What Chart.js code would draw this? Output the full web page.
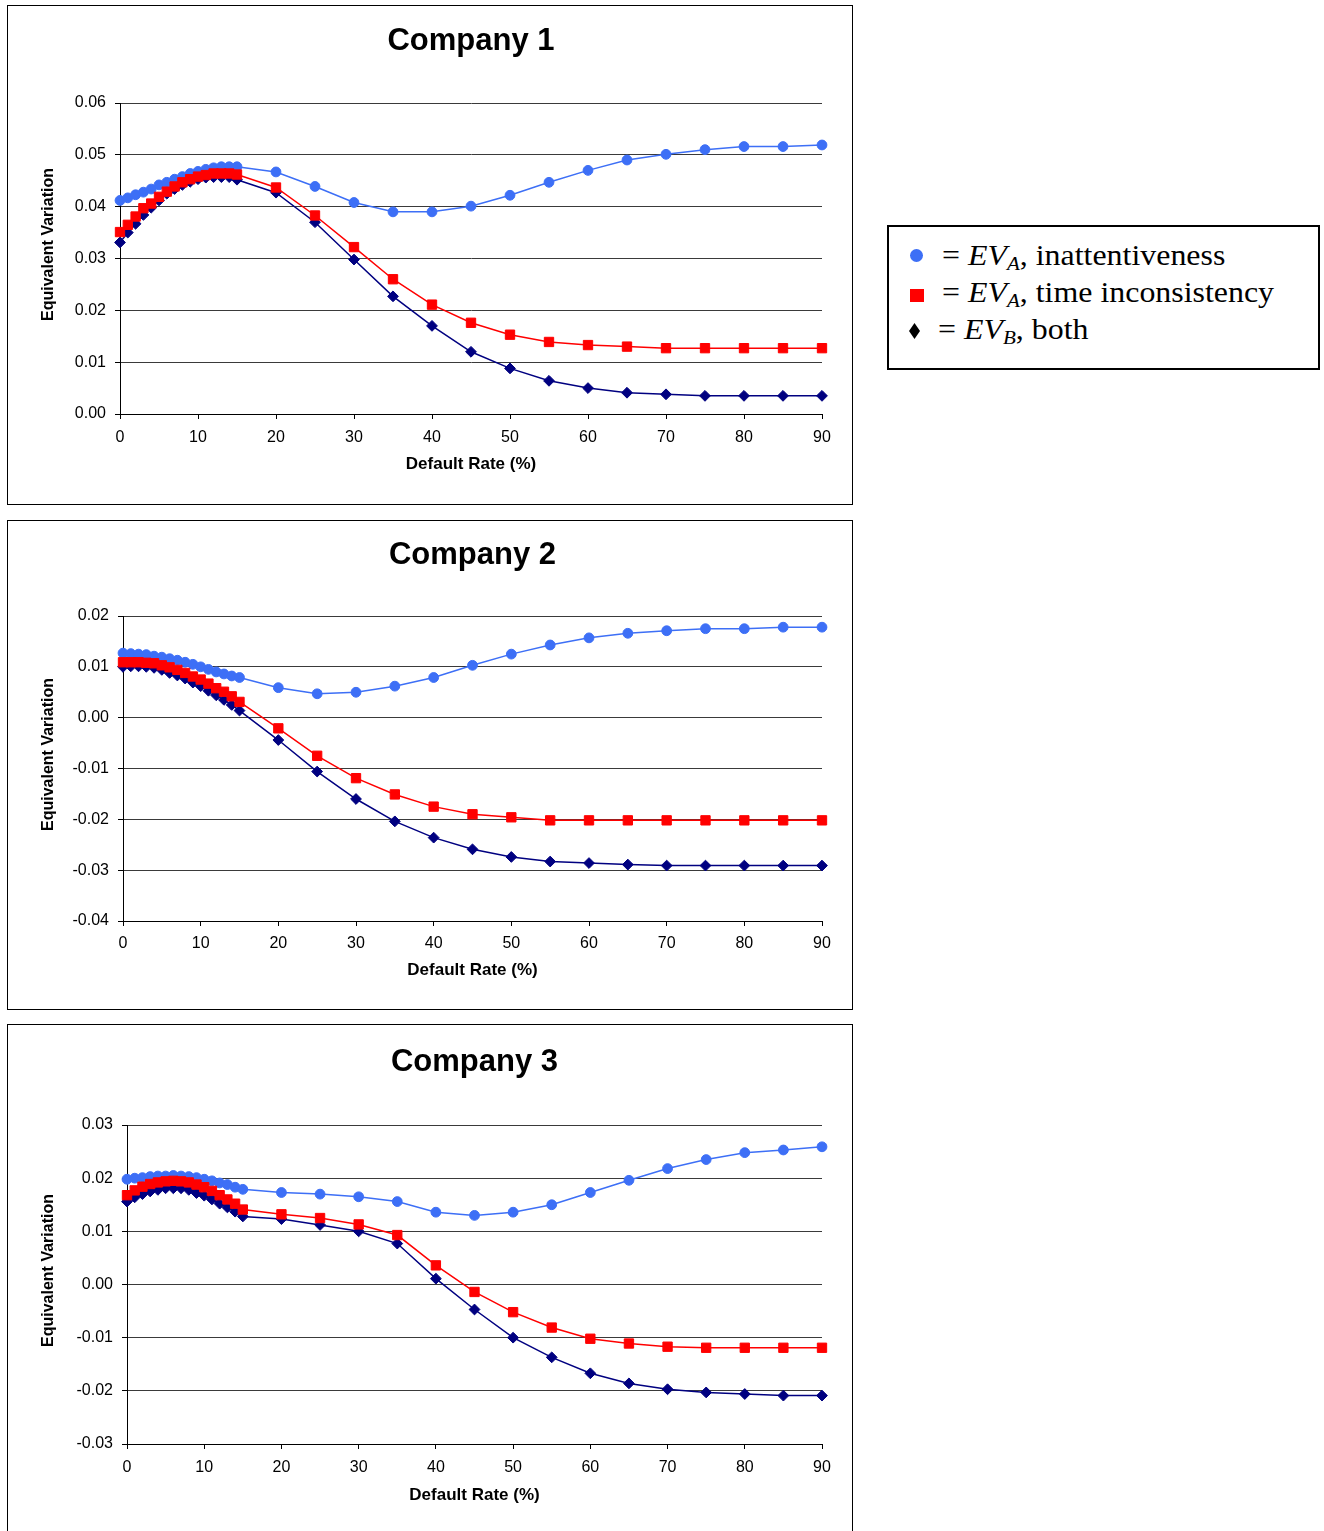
<!DOCTYPE html>
<html>
<head>
<meta charset="utf-8">
<script src="https://cdn.jsdelivr.net/npm/chart.js@4.4.1/dist/chart.umd.min.js"></script>
<style>
  html, body { margin: 0; padding: 0; background: #fff; }
  body { width: 1324px; height: 1531px; position: relative; overflow: hidden; }
  .panel { position: absolute; border: 1px solid #000; box-sizing: border-box; background: #fff; }
  .panel canvas { position: absolute; left: 0; top: 0; }
  #legend {
    position: absolute; left: 887px; top: 225px; width: 433px; height: 145px;
    border: 2px solid #000; box-sizing: border-box;
    font-family: "Liberation Serif", "Times New Roman", serif; font-size: 29px; color: #000;
  }
  #legend .row { position: absolute; height: 36px; line-height: 36px; white-space: nowrap;
                 transform: scaleX(1.1); transform-origin: left center; }
  #legend sub { font-size: 0.66em; font-style: italic; vertical-align: baseline; position: relative; top: 5px; line-height: 0; }
  #legend .mk { position: absolute; }
  .dot { width: 13px; height: 13px; border-radius: 50%; background: #3D6FF6; }
  .sq { width: 14px; height: 13px; background: #FF0000; }
  .dia { width: 11px; height: 16px; background: #000; clip-path: polygon(50% 0, 100% 50%, 50% 100%, 0 50%); }
</style>
</head>
<body>
<div class="panel" id="p1"><canvas id="c1"></canvas></div>
<div class="panel" id="p2"><canvas id="c2"></canvas></div>
<div class="panel" id="p3"><canvas id="c3"></canvas></div>

<div id="legend">
  <span class="mk dot" style="left:21px; top:22px;"></span>
  <span class="mk sq" style="left:21px; top:62px;"></span>
  <span class="mk dia" style="left:20px; top:96px;"></span>
  <div class="row" style="left:53px; top:10px;">= <i>EV</i><sub>A</sub>, inattentiveness</div>
  <div class="row" style="left:53px; top:47px;">= <i>EV</i><sub>A</sub>, time inconsistency</div>
  <div class="row" style="left:49px; top:84px;">= <i>EV</i><sub>B</sub>, both</div>
</div>

<script>
// default rate (%) on the x axis
const rates = [0, 1, 2, 3, 4, 5, 6, 7, 8, 9, 10, 11, 12, 13, 14, 15,
               20, 25, 30, 35, 40, 45, 50, 55, 60, 65, 70, 75, 80, 85, 90];

// Company 1
const c1Inatt = [0.0412, 0.0417, 0.0423, 0.0428, 0.0434, 0.0442, 0.0447, 0.0453, 0.0458, 0.0464, 0.0468, 0.0472, 0.0475, 0.0477, 0.0477, 0.0477,
                 0.0467, 0.0439, 0.0408, 0.0390, 0.0390, 0.0401, 0.0422, 0.0447, 0.0470, 0.0490, 0.0501, 0.0510, 0.0516, 0.0516, 0.0519];
const c1TimeInc = [0.0351, 0.0365, 0.0381, 0.0397, 0.0406, 0.0419, 0.0429, 0.0439, 0.0447, 0.0453, 0.0458, 0.0461, 0.0464, 0.0464, 0.0464, 0.0462,
                   0.0437, 0.0383, 0.0322, 0.0260, 0.0211, 0.0176, 0.0153, 0.0139, 0.0133, 0.0130, 0.0127, 0.0127, 0.0127, 0.0127, 0.0127];
const c1Both = [0.0331, 0.0350, 0.0367, 0.0384, 0.0398, 0.0412, 0.0425, 0.0434, 0.0442, 0.0448, 0.0453, 0.0456, 0.0457, 0.0457, 0.0457, 0.0452,
                0.0427, 0.0370, 0.0298, 0.0227, 0.0170, 0.0120, 0.0088, 0.0064, 0.0050, 0.0041, 0.0038, 0.0035, 0.0035, 0.0035, 0.0035];
const c1YRange = [0, 0.06];

// Company 2
const c2Inatt = [0.0127, 0.0126, 0.0125, 0.0124, 0.0121, 0.0119, 0.0116, 0.0113, 0.0109, 0.0105, 0.0100, 0.0095, 0.0090, 0.0086, 0.0082, 0.0079,
                 0.0059, 0.0047, 0.0050, 0.0062, 0.0079, 0.0103, 0.0125, 0.0143, 0.0157, 0.0166, 0.0171, 0.0175, 0.0175, 0.0178, 0.0178];
const c2TimeInc = [0.0109, 0.0109, 0.0109, 0.0108, 0.0107, 0.0103, 0.0099, 0.0094, 0.0088, 0.0081, 0.0075, 0.0067, 0.0058, 0.0051, 0.0042, 0.0031,
                   -0.0021, -0.0075, -0.0119, -0.0151, -0.0175, -0.0190, -0.0196, -0.0202, -0.0202, -0.0202, -0.0202, -0.0202, -0.0202, -0.0202, -0.0202];
const c2Both = [0.0100, 0.0101, 0.0101, 0.0100, 0.0098, 0.0094, 0.0088, 0.0083, 0.0077, 0.0069, 0.0062, 0.0053, 0.0044, 0.0035, 0.0025, 0.0014,
                -0.0044, -0.0106, -0.0160, -0.0204, -0.0236, -0.0259, -0.0274, -0.0283, -0.0286, -0.0289, -0.0291, -0.0291, -0.0291, -0.0291, -0.0291];
const c2YRange = [-0.04, 0.02];

// Company 3
const c3Inatt = [0.0198, 0.0200, 0.0201, 0.0203, 0.0204, 0.0204, 0.0205, 0.0204, 0.0203, 0.0201, 0.0198, 0.0195, 0.0191, 0.0188, 0.0183, 0.0179,
                 0.0173, 0.0170, 0.0165, 0.0156, 0.0136, 0.0130, 0.0136, 0.0150, 0.0173, 0.0196, 0.0218, 0.0235, 0.0248, 0.0253, 0.0259];
const c3TimeInc = [0.0168, 0.0177, 0.0184, 0.0189, 0.0192, 0.0194, 0.0195, 0.0194, 0.0192, 0.0188, 0.0183, 0.0176, 0.0168, 0.0160, 0.0152, 0.0141,
                   0.0132, 0.0125, 0.0113, 0.0093, 0.0036, -0.0014, -0.0052, -0.0081, -0.0102, -0.0111, -0.0117, -0.0119, -0.0119, -0.0119, -0.0119];
const c3Both = [0.0156, 0.0164, 0.0170, 0.0175, 0.0178, 0.0181, 0.0181, 0.0181, 0.0178, 0.0172, 0.0167, 0.0160, 0.0152, 0.0145, 0.0137, 0.0128,
                0.0123, 0.0112, 0.0100, 0.0077, 0.0011, -0.0047, -0.0100, -0.0137, -0.0167, -0.0186, -0.0197, -0.0203, -0.0206, -0.0209, -0.0209];
const c3YRange = [-0.03, 0.03];

const BLUE = '#3D6FF6';
const RED = '#FF0000';
const NAVY = '#000080';
const FONT = '"Liberation Sans", Arial, sans-serif';

Chart.defaults.font.family = FONT;
Chart.defaults.color = '#000';

function series(vals) {
  return rates.map((x, i) => ({ x: x, y: vals[i] }));
}

// y axis title sits a little above the middle of the plot, as in the original
const yTitlePlugin = {
  id: 'yTitle',
  afterDraw(chart, args, opts) {
    const { ctx, chartArea } = chart;
    ctx.save();
    ctx.font = 'bold 16px ' + FONT;
    ctx.fillStyle = '#000';
    ctx.textAlign = 'center';
    ctx.textBaseline = 'middle';
    ctx.translate(opts.x, (chartArea.top + chartArea.bottom) / 2 - 14);
    ctx.rotate(-Math.PI / 2);
    ctx.fillText('Equivalent Variation', 0, 0);
    ctx.restore();
  }
};

// box and plot are page coordinates
function makePanel(id, box, plot, titleY, tickY, xTitleY, title, yRange, inatt, timeInc, both) {
  const panel = document.getElementById('p' + id);
  panel.style.left = box.x + 'px';
  panel.style.top = box.y + 'px';
  panel.style.width = box.w + 'px';
  panel.style.height = box.h + 'px';

  const cl = box.x + 1, ct = box.y + 1, cw = box.w - 2, ch = box.h - 2;
  const canvas = document.getElementById('c' + id);
  canvas.width = cw;
  canvas.height = ch;

  const titleLh = 31 * 1.2;
  const titleTop = titleY - ct - titleLh / 2;
  const titleBottom = plot.t - ct - titleTop - titleLh;
  const yAxisW = plot.l - cl;
  const xAxisH = ct + ch - plot.b;
  const xTickPad = tickY - plot.b - 5 - 16 * 1.2 / 2;
  const xTitlePad = ct + ch - xTitleY - 17 * 1.2 / 2;

  new Chart(canvas, {
    type: 'line',
    plugins: [yTitlePlugin],
    data: {
      datasets: [
        { label: 'EV_A, time inconsistency', data: series(timeInc), borderColor: RED, backgroundColor: RED,
          pointStyle: 'rect', pointRadius: 6.6, order: 1 },
        { label: 'EV_B, both', data: series(both), borderColor: NAVY, backgroundColor: NAVY,
          pointStyle: 'rectRot', pointRadius: 5.4, order: 2 },
        { label: 'EV_A, inattentiveness', data: series(inatt), borderColor: BLUE, backgroundColor: BLUE,
          pointStyle: 'circle', pointRadius: 4.9, order: 3 }
      ]
    },
    options: {
      responsive: false,
      animation: false,
      layout: { padding: { left: 0, right: cl + cw - plot.r, top: 0, bottom: 0 } },
      elements: {
        line: { tension: 0, borderWidth: 1.5 },
        point: { borderWidth: 1 }
      },
      datasets: { line: { clip: false } },
      plugins: {
        legend: { display: false },
        tooltip: { enabled: false },
        yTitle: { x: 49 - cl },
        title: {
          display: true, text: title, fullSize: false, color: '#000',
          font: { size: 31, weight: 'bold' },
          padding: { top: titleTop, bottom: titleBottom }
        }
      },
      scales: {
        x: {
          type: 'linear', min: 0, max: 90,
          ticks: { stepSize: 10, padding: xTickPad, maxRotation: 0, font: { size: 16 } },
          grid: { drawOnChartArea: false, drawTicks: true, tickLength: 5, tickColor: '#000' },
          border: { display: true, color: '#000' },
          title: { display: true, text: 'Default Rate (%)', font: { size: 17, weight: 'bold' },
                   padding: { top: 0, bottom: xTitlePad } },
          afterFit: s => { s.height = xAxisH; s.paddingLeft = 0; s.paddingRight = 0; }
        },
        y: {
          min: yRange[0], max: yRange[1],
          ticks: { stepSize: 0.01, padding: 9, font: { size: 16 },
                   callback: v => (Math.abs(v) < 1e-9 ? 0 : v).toFixed(2) },
          grid: { color: '#3a3a3a', tickLength: 5, tickColor: '#000' },
          border: { display: true, color: '#000' },
          afterFit: s => { s.width = yAxisW; s.paddingTop = 0; s.paddingBottom = 0; }
        }
      }
    }
  });
}

makePanel(1, { x: 7, y: 5, w: 846, h: 500 }, { l: 120, r: 822, t: 103, b: 414 }, 41, 438, 464,
          'Company 1', c1YRange, c1Inatt, c1TimeInc, c1Both);
makePanel(2, { x: 7, y: 520, w: 846, h: 490 }, { l: 123, r: 822, t: 616, b: 921 }, 555, 944, 970,
          'Company 2', c2YRange, c2Inatt, c2TimeInc, c2Both);
makePanel(3, { x: 7, y: 1024, w: 846, h: 520 }, { l: 127, r: 822, t: 1125, b: 1444 }, 1062, 1468, 1495,
          'Company 3', c3YRange, c3Inatt, c3TimeInc, c3Both);
</script>
</body>
</html>
